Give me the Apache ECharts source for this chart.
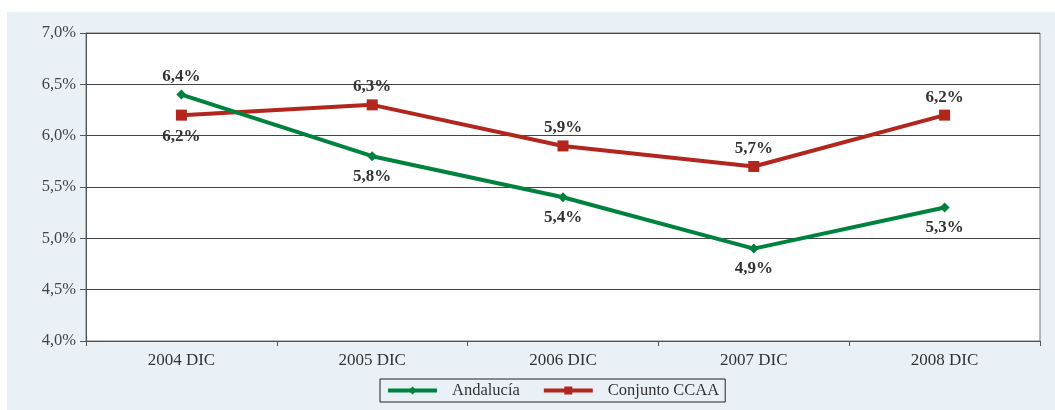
<!DOCTYPE html>
<html>
<head>
<meta charset="utf-8">
<script src="https://cdn.jsdelivr.net/npm/echarts@6/dist/echarts.min.js"></script>
<style>
  html, body { margin: 0; padding: 0; background: #fff; }
  #chart { width: 1055px; height: 410px; }
</style>
</head>
<body>
<div id="chart"></div>
<script>
// datos
const categories = ["2004 DIC", "2005 DIC", "2006 DIC", "2007 DIC", "2008 DIC"];
const andalucia = [6.4, 5.8, 5.4, 4.9, 5.3];
const conjunto = [6.2, 6.3, 5.9, 5.7, 6.2];
const andaluciaLabelPos = ["top", "bottom", "bottom", "bottom", "bottom"];
const conjuntoLabelPos = ["bottom", "top", "top", "top", "top"];

const serif = "'Liberation Serif', 'DejaVu Serif', serif";
const fmtPct = (v) => v.toFixed(1).replace(".", ",") + "%";

const chart = echarts.init(document.getElementById("chart"));

const labelStyle = {
  show: true,
  fontFamily: serif,
  fontWeight: "bold",
  fontSize: 17,
  color: "#333",
  formatter: (p) => fmtPct(p.value),
};

const pointLabel = (pos) => ({
  position: pos,
  distance: pos === "top" ? 4 : 7,
});

const options = {
  backgroundColor: "#fff",
  animation: false,
  graphic: [
    {
      type: "rect",
      z: -10,
      shape: { x: 7, y: 12, width: 1048, height: 398 },
      style: { fill: "#e9f1f7" },
    },
  ],
  grid: {
    left: 86,
    right: 15,
    top: 33,
    bottom: 69,
    show: true,
    backgroundColor: "#fff",
    borderColor: "#777",
    borderWidth: 1,
  },
  xAxis: {
    type: "category",
    data: categories,
    boundaryGap: true,
    axisLine: { lineStyle: { color: "#555", width: 1 } },
    axisTick: { show: true, length: 5, lineStyle: { color: "#555" } },
    axisLabel: {
      fontFamily: serif,
      fontSize: 17,
      color: "#333",
      margin: 11,
    },
  },
  yAxis: {
    type: "value",
    min: 4.0,
    max: 7.0,
    interval: 0.5,
    axisLine: { show: true, lineStyle: { color: "#555", width: 1 } },
    axisTick: { show: true, length: 6, lineStyle: { color: "#555" } },
    splitLine: { lineStyle: { color: "#444", width: 1 } },
    axisLabel: {
      fontFamily: serif,
      fontSize: 16.5,
      color: "#444",
      margin: 10,
      formatter: (v) => fmtPct(v),
    },
  },
  legend: {
    top: 379,
    left: 380,
    orient: "horizontal",
    itemWidth: 49,
    itemHeight: 10,
    itemGap: 22,
    padding: [3, 6, 3, 6],
    borderColor: "#222",
    borderWidth: 1,
    textStyle: {
      fontFamily: serif,
      fontSize: 16.5,
      color: "#333",
      padding: [0, 0, 0, 10],
    },
    data: [
      { name: "Andalucía", lineStyle: { width: 4 } },
      { name: "Conjunto CCAA", lineStyle: { width: 4 } },
    ],
  },
  series: [
    {
      name: "Andalucía",
      type: "line",
      data: andalucia.map((v, i) => ({
        value: v,
        label: pointLabel(andaluciaLabelPos[i]),
      })),
      symbol: "diamond",
      symbolSize: 10,
      lineStyle: { color: "#00823f", width: 4 },
      itemStyle: { color: "#00823f" },
      label: labelStyle,
      z: 3,
    },
    {
      name: "Conjunto CCAA",
      type: "line",
      data: conjunto.map((v, i) => ({
        value: v,
        label: pointLabel(conjuntoLabelPos[i]),
      })),
      symbol: "rect",
      symbolSize: 11,
      lineStyle: { color: "#b3261e", width: 4 },
      itemStyle: { color: "#b3261e" },
      label: labelStyle,
      z: 2,
    },
  ],
};

chart.setOption(options);
</script>
</body>
</html>
